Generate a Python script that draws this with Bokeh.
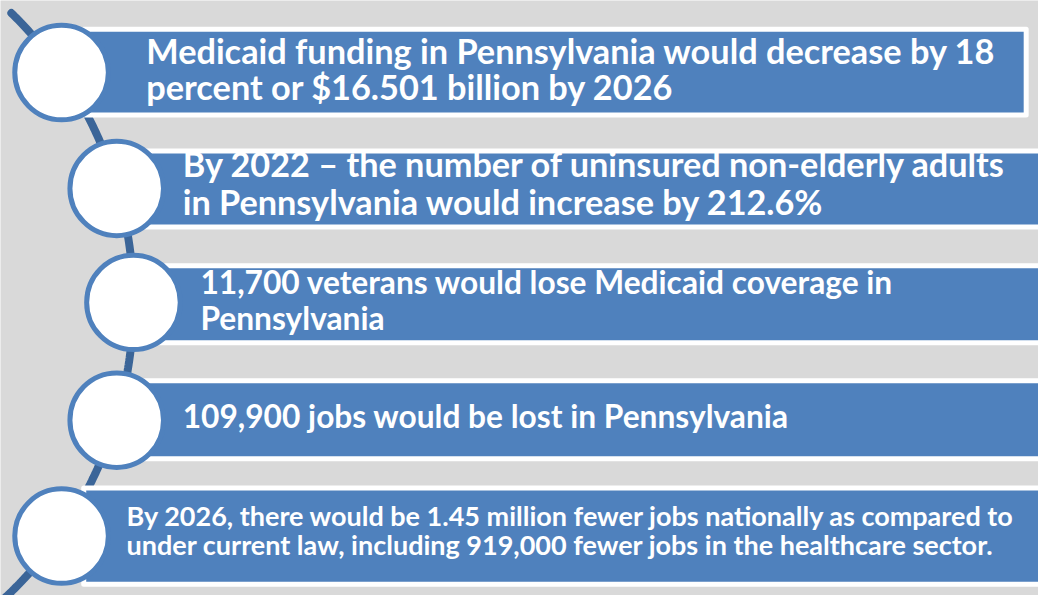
import numpy as np
from bokeh.plotting import figure
from bokeh.models import Range1d
from bokeh.core.properties import value
from bokeh.embed import file_html
from bokeh.resources import INLINE

# ---- content ----
statement_1 = ["Medicaid funding in Pennsylvania would decrease by 18",
               "percent or $16.501 billion by 2026"]
statement_2 = ["By 2022 \u2013 the number of uninsured non-elderly adults",
               "in Pennsylvania would increase by 212.6%"]
statement_3 = ["11,700 veterans would lose Medicaid coverage in",
               "Pennsylvania"]
statement_4 = ["109,900 jobs would be lost in Pennsylvania"]
statement_5 = ["By 2026, there would be 1.45 million fewer jobs nationally as compared to",
               "under current law, including 919,000 fewer jobs in the healthcare sector."]
statements = [statement_1, statement_2, statement_3, statement_4, statement_5]

# ---- layout (pixel space of the reference) ----
W, H = 1054, 611
PW, PH = 1038, 595
circle_x = [62, 118, 135, 118, 62]
circle_y = [74, 193, 310, 431, 550]
box_left = [82, 138, 155, 138, 82]
box_right = [1044, 1060, 1060, 1060, 1060]
box_top = [27, 152, 270, 388, 498]
box_bottom = [120, 235, 354, 473, 602]
text_x = [148, 185, 203, 185, 128]
text_base = [[66, 103], [182, 221], [303, 340], [440], [540, 570]]
text_size = [34.3, 34.25, 31.7, 31.7, 27]
BASE_FIX = 0.42  # renderer places the alphabetic baseline lower; compensate

BLUE = "#4F81BD"
ARC = "#3B6598"
BG = "#D9D9D9"

p = figure(width=PW, height=PH, x_range=Range1d(0, W), y_range=Range1d(H, 0),
           output_backend="svg", toolbar_location=None, min_border=0)
p.axis.visible = False
p.grid.visible = False
p.outline_line_color = None
p.background_fill_color = BG
p.border_fill_color = BG

# connecting arc
cx, cy, R = -283.0, 310.0, 418.0
th = np.radians(np.linspace(-45.3, 50, 200))
p.line(cx + R * np.cos(th), cy + R * np.sin(th), line_color=ARC, line_width=8,
       line_cap="round")

# boxes
inset = 2.5
p.quad(left=[l + inset for l in box_left], right=[r - inset for r in box_right],
       top=[t + inset for t in box_top], bottom=[b - inset for b in box_bottom],
       fill_color=BLUE, line_color="white", line_width=5, line_join="round")

# circles
p.ellipse(x=circle_x, y=circle_y, width=95, height=97, fill_color="white",
          line_color=BLUE, line_width=5)

# texts
ys = PH / H
for lines, x0, bases, fs in zip(statements, text_x, text_base, text_size):
    yy = [b - BASE_FIX * fs / ys for b in bases]
    p.text(x=[x0] * len(lines), y=yy, text=lines, text_color="white",
           text_font=value("Lato"), text_font_style="bold",
           text_font_size=value(f"{fs}px"), text_baseline="alphabetic",
           text_align="left")

open("out.html", "w").write(file_html(p, INLINE))
